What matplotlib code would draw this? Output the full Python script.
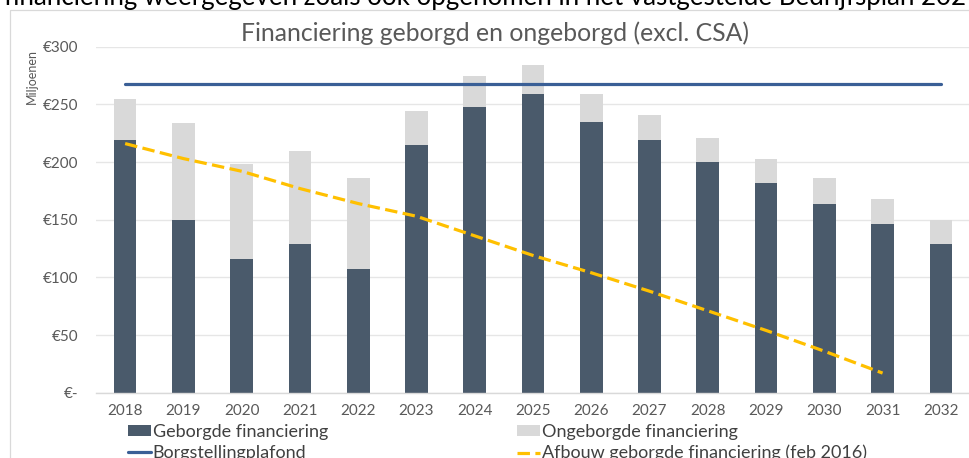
import matplotlib
matplotlib.use("Agg")
import matplotlib.pyplot as plt
from matplotlib.patches import Rectangle
from matplotlib.ticker import FuncFormatter

plt.rcParams['font.family'] = ['Lato', 'DejaVu Sans']

years = ['2018', '2019', '2020', '2021', '2022', '2023', '2024', '2025',
         '2026', '2027', '2028', '2029', '2030', '2031', '2032']
geborgd = [219, 150, 116, 129, 107, 215, 248, 259, 235, 219, 200, 182, 164, 146, 129]
totaal = [255, 234, 198, 210, 186, 244, 275, 284, 259, 241, 221, 203, 186, 168, 150]
ongeborgd = [t - g for t, g in zip(totaal, geborgd)]
plafond = [268] * len(years)
afbouw = [216, 203, 192, 177, 164, 153, 136, 119, 104, 88, 71, 54, 36, 17]
yticks = [0, 50, 100, 150, 200, 250, 300]

W, H = 970, 458
fig = plt.figure(figsize=(W / 100, H / 100), dpi=100)

# chart frame
fig.patches.append(Rectangle((10 / W, -0.1), 1.2, 1 - 10 / H + 0.1, transform=fig.transFigure,
                             fill=False, edgecolor='#D9D9D9', linewidth=0.9))

ax = fig.add_axes([96 / W, (H - 392.7) / H, 874 / W, (392.7 - 46.7) / H])
x = list(range(len(years)))
bw = 0.39
b1 = ax.bar(x, geborgd, width=bw, color='#4A5A6B', label='Geborgde financiering', zorder=2)
b2 = ax.bar(x, ongeborgd, width=bw, bottom=geborgd, color='#D9D9D9',
            label='Ongeborgde financiering', zorder=2)
l1, = ax.plot(x, plafond, color='#3A5F96', linewidth=2.3, solid_capstyle='round',
              label='Borgstellingplafond', zorder=3)
l2, = ax.plot(x[:len(afbouw)], afbouw, color='#FFC000', linewidth=2.3,
              linestyle=(0, (3.9, 1.7)), label='Afbouw geborgde financiering (feb 2016)', zorder=4)

ax.set_xlim(-0.5, len(years) - 0.5)
ax.set_ylim(0, 300)
ax.set_yticks(yticks)
ax.yaxis.set_major_formatter(FuncFormatter(lambda v, p: '€-' if v == 0 else f'€{int(v)}'))
ax.set_xticks(x)
ax.set_xticklabels(years)
ax.grid(axis='y', color='#E6E6E6', linewidth=1.0, zorder=0)
for s in ['top', 'right', 'left']:
    ax.spines[s].set_visible(False)
ax.spines['bottom'].set_color('#D9D9D9')
ax.spines['bottom'].set_linewidth(1.0)
ax.tick_params(axis='both', length=0, colors='#595959', labelsize=11)
ax.tick_params(axis='y', pad=13)
ax.tick_params(axis='x', pad=8)

fig.text(32 / W, 1 - 76 / H, 'Miljoenen', rotation=90, ha='center', va='center',
         fontsize=9, color='#595959')

fig.text(495 / W, 1 - 33 / H, 'Financiering geborgd en ongeborgd (excl. CSA)',
         ha='center', va='center', fontsize=17.8, color='#595959')

fig.text(4 / W, 1 - 5 / H,
         'financiering weergegeven zoals ook opgenomen in het vastgestelde Bedrijfsplan 202',
         ha='left', va='baseline', fontsize=18.6, color='#000000')

common = dict(frameon=False, borderpad=0, borderaxespad=0, handlelength=1.25,
              handletextpad=0.12, labelspacing=0.27, fontsize=13, labelcolor='#404040',
              loc='upper left', handleheight=0.55)
fig.legend(handles=[b1, l1], labels=['Geborgde financiering', 'Borgstellingplafond'],
           bbox_to_anchor=(128 / W, 1 - 424 / H), **common)
fig.legend(handles=[b2, l2], labels=['Ongeborgde financiering',
                                     'Afbouw geborgde financiering (feb 2016)'],
           bbox_to_anchor=(517 / W, 1 - 424 / H), **common)

fig.savefig('out.png', dpi=100)
